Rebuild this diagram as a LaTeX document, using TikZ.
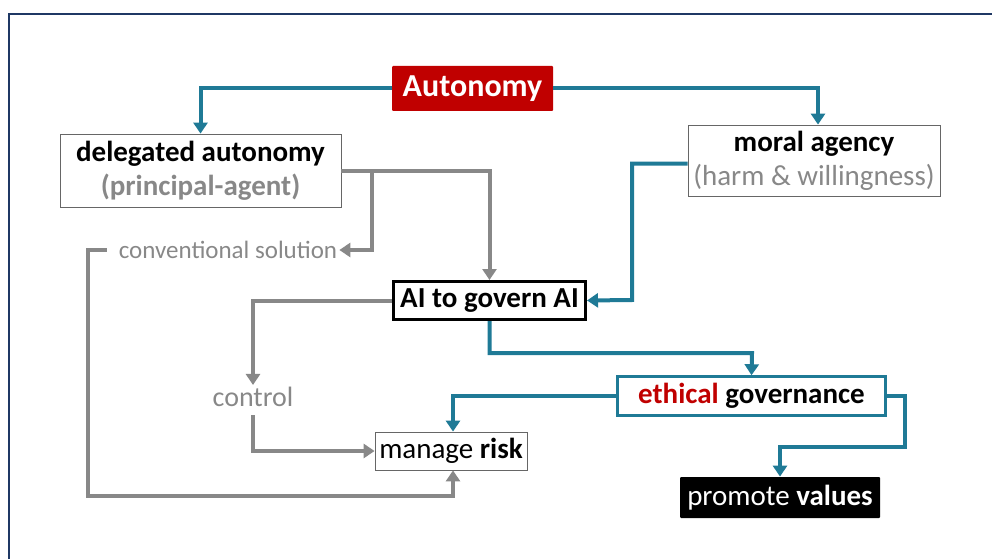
\documentclass[tikz,border=0pt]{standalone}
\usepackage{xcolor}
\usepackage{fontspec}
\setmainfont{Carlito}
\usepackage{tikz}
\usetikzlibrary{positioning}
\usetikzlibrary{arrows.meta}

\definecolor{deepred}{HTML}{C00000}
\definecolor{petrol}{HTML}{1F7A96}
\definecolor{midgray}{HTML}{888888}
\definecolor{navyline}{HTML}{1F3864}

\begin{document}
\begin{tikzpicture}
  [ x=1pt, y=-1pt,
    box/.style={draw=black!60, line width=0.8pt, inner sep=0pt,
      align=center, font=\fontsize{29}{34}\selectfont},
    label/.style={text=midgray, inner sep=2pt,
      font=\fontsize{28}{33}\selectfont},
    bl/.style={draw=petrol, line width=4pt,
      -{Triangle[width=14pt,length=11pt]}},
    gr/.style={draw=midgray, line width=4pt,
      -{Triangle[width=14pt,length=11pt]}}
  ]

  \useasboundingbox (0,0) rectangle (992,559);
  \draw [navyline, line width=2pt] (9,559) -- (9,14) -- (992,14);

  \node (auto)  at (472.5, 88.5) [box, draw=none, fill=deepred, rounded corners=1pt,
    minimum width=161, minimum height=45, text=white,
    font=\fontsize{32}{36}\selectfont\bfseries] {Autonomy};
  \node (deleg) at (200.5,170.5) [box, minimum width=281, minimum height=73]
    {\textbf{delegated autonomy}\\ \textcolor{midgray}{\textbf{(principal-agent)}}};
  \node (moral) at (814,  160.5) [box, minimum width=252, minimum height=71]
    {\textbf{moral agency}\\ \textcolor{midgray}{(harm \& willingness)}};
  \node (aigov) at (489.5,300.5) [box, draw=black, line width=3pt,
    minimum width=192, minimum height=38] {\textbf{AI to govern AI}};
  \node (ethic) at (751.5,396)   [box, draw=petrol, line width=2.5pt,
    minimum width=268, minimum height=39]
    {\textcolor{deepred}{\textbf{ethical}} \textbf{governance}};
  \node (risk)  at (451,  451)   [box, minimum width=152, minimum height=38]
    {manage \textbf{risk}};
  \node (promo) at (780,  497.5) [box, draw=none, fill=black, rounded corners=1pt,
    minimum width=200, minimum height=41, text=white]
    {promote \textbf{values}};

  \node (conv)  at (228,  250)   [label, font=\fontsize{25}{30}\selectfont]
    {conventional solution};
  \node (ctrl)  at (253,  397)   [label] {control};

  \coordinate (split) at (372,171);
  \coordinate (lft)   at (88,496);
  \coordinate (mbend) at (632,300);
  \coordinate (abend) at (752,353);
  \coordinate (ebend) at (905,447);

	\draw [bl]
		(auto.west) -| (deleg.north);

	\draw [bl]
		(auto.east) -| ([xshift=4]moral.north);

	\draw [gr]
		(deleg.east) -| (aigov.north);

	\draw [gr]
		(split) |- (conv.east);

	\draw [gr, shorten <=10pt]
		(conv.west) -| (lft) -| ([xshift=2]risk.south);

	\draw [bl]
		([yshift=-3]moral.west) -| (mbend) -- (aigov.east);

	\draw [gr]
		(aigov.west) -| (ctrl.north);

	\draw [gr, shorten <=6pt]
		(ctrl.south) |- (risk.west);

	\draw [bl]
		(aigov.south) |- (abend) -- (ethic.north);

	\draw [bl]
		(ethic.west) -| ([xshift=2]risk.north);

	\draw [bl]
		(ethic.east) -| (ebend) -| (promo.north);
\end{tikzpicture}
\end{document}
